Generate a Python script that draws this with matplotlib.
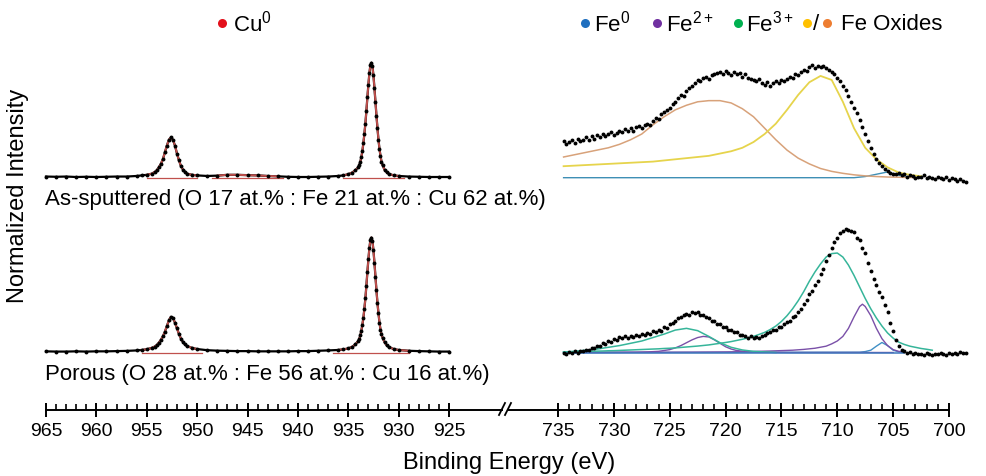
import numpy as np
import matplotlib
matplotlib.use("Agg")
import matplotlib.pyplot as plt
from matplotlib.ticker import FixedLocator

plt.rcParams["font.family"] = "Liberation Sans"
plt.rcParams["mathtext.fontset"] = "custom"
plt.rcParams["mathtext.rm"] = "Liberation Sans"
plt.rcParams["mathtext.default"] = "regular"

# ---- Cu 2p (binding energy, normalized intensity) ----
CU_E = [965, 964, 963, 962, 961, 960, 959, 958, 957, 956, 955.5, 955, 954.5, 954.2,
        954.0, 953.8, 953.6, 953.4, 953.2, 953.0, 952.8, 952.6, 952.4, 952.2, 952.0,
        951.8, 951.6, 951.4, 951.2, 951.0, 950.5, 950, 949, 948, 947, 946, 945, 944,
        943, 942, 941, 940, 939, 938, 937, 936, 935.5, 935, 934.6, 934.3, 934.0, 933.9,
        933.8, 933.7, 933.6, 933.5, 933.4, 933.3, 933.2, 933.1, 933.0, 932.9, 932.8,
        932.7, 932.6, 932.5, 932.4, 932.3, 932.2, 932.1, 932.0, 931.9, 931.8, 931.7,
        931.6, 931.4, 931.2, 931.0, 930.5, 930, 929, 928, 927, 926, 925]
CU_ASSPUT = [0.01, 0.008, 0.01, 0.006, 0.008, 0.006, 0.008, 0.01, 0.01, 0.015, 0.02, 0.025,
             0.035, 0.05, 0.065, 0.09, 0.12, 0.16, 0.22, 0.28, 0.33, 0.35, 0.33, 0.28, 0.21,
             0.15, 0.10, 0.07, 0.05, 0.035, 0.025, 0.02, 0.015, 0.018, 0.025, 0.025, 0.022,
             0.02, 0.015, 0.012, 0.008, 0.006, 0.006, 0.008, 0.01, 0.015, 0.02, 0.03, 0.045,
             0.065, 0.09, 0.11, 0.14, 0.18, 0.23, 0.30, 0.38, 0.47, 0.58, 0.70, 0.81, 0.91,
             0.98, 1.0, 0.97, 0.89, 0.78, 0.66, 0.54, 0.43, 0.33, 0.25, 0.19, 0.14, 0.11,
             0.07, 0.05, 0.035, 0.02, 0.015, 0.01, 0.008, 0.006, 0.006, 0.006]
CU_POROUS = [0.01, 0.008, 0.008, 0.01, 0.008, 0.01, 0.01, 0.012, 0.014, 0.018, 0.022, 0.028,
             0.04, 0.052, 0.065, 0.085, 0.11, 0.14, 0.18, 0.23, 0.28, 0.31, 0.30, 0.26, 0.21,
             0.16, 0.12, 0.09, 0.07, 0.055, 0.04, 0.03, 0.02, 0.016, 0.014, 0.012, 0.012,
             0.01, 0.01, 0.01, 0.01, 0.012, 0.012, 0.015, 0.018, 0.022, 0.027, 0.035, 0.05,
             0.07, 0.10, 0.12, 0.15, 0.19, 0.24, 0.30, 0.38, 0.47, 0.58, 0.70, 0.81, 0.91,
             0.98, 1.0, 0.97, 0.89, 0.78, 0.66, 0.54, 0.43, 0.34, 0.26, 0.20, 0.16, 0.13,
             0.09, 0.065, 0.05, 0.03, 0.022, 0.015, 0.012, 0.01, 0.008, 0.008]
# fitted ranges (red)
CU_FIT_ASSPUT = [(955.0, 950.0), (948.5, 941.5), (935.5, 929.5)]
CU_FIT_POROUS = [(955.5, 949.5), (936.5, 929.0)]

# ---- Fe 2p data, 0.25 eV step ----
FE_E = np.arange(734.5, 698.4, -0.25)
FE_ASSPUT = [
    0.32, 0.29, 0.31, 0.33, 0.30, 0.34, 0.32, 0.33,
    0.35, 0.33, 0.36, 0.34, 0.37, 0.35, 0.38, 0.36,
    0.38, 0.40, 0.37, 0.39, 0.41, 0.40, 0.42, 0.41,
    0.43, 0.41, 0.44, 0.45, 0.43, 0.46, 0.47, 0.46,
    0.49, 0.52, 0.51, 0.55, 0.57, 0.59, 0.61, 0.64,
    0.66, 0.69, 0.72, 0.71, 0.75, 0.78, 0.80, 0.82,
    0.85, 0.84, 0.87, 0.88, 0.86, 0.89, 0.90, 0.91,
    0.92, 0.90, 0.93, 0.91, 0.89, 0.92, 0.90, 0.91,
    0.88, 0.90, 0.87, 0.86, 0.85, 0.84, 0.86, 0.82,
    0.81, 0.83, 0.80, 0.82, 0.84, 0.82, 0.85, 0.84,
    0.86, 0.88, 0.87, 0.90, 0.89, 0.92, 0.94, 0.93,
    0.96, 0.98, 0.95, 0.97, 0.96, 0.97, 0.95, 0.94,
    0.92, 0.90, 0.87, 0.84, 0.80, 0.76, 0.71, 0.66,
    0.61, 0.56, 0.50, 0.44, 0.38, 0.32, 0.26, 0.21,
    0.165, 0.13, 0.10, 0.08, 0.06, 0.045, 0.035, 0.03,
    0.04, 0.02, 0.03, 0.01, 0.02, 0.015, 0.0, 0.01,
    0.005, 0.02, -0.005, 0.01, 0.0, -0.01, 0.005, -0.005,
    -0.01, 0.01, -0.02, -0.005, -0.015, -0.03, -0.01, -0.025,
    -0.04]
FE_POROUS = [
    -0.005, -0.015, 0.005, -0.005, 0.01, 0.0, 0.015, 0.01,
    0.025, 0.02, 0.04, 0.035, 0.06, 0.055, 0.08, 0.075,
    0.10, 0.09, 0.12, 0.11, 0.135, 0.125, 0.14, 0.13,
    0.145, 0.135, 0.15, 0.14, 0.16, 0.15, 0.17, 0.165,
    0.185, 0.175, 0.20, 0.19, 0.22, 0.21, 0.25, 0.255,
    0.275, 0.30, 0.305, 0.325, 0.335, 0.33, 0.35, 0.34,
    0.355, 0.33, 0.33, 0.305, 0.30, 0.275, 0.275, 0.25,
    0.25, 0.225, 0.225, 0.20, 0.20, 0.18, 0.18, 0.155,
    0.155, 0.14, 0.13, 0.14, 0.125, 0.135, 0.125, 0.145,
    0.15, 0.17, 0.175, 0.195, 0.20, 0.22, 0.225, 0.25,
    0.265, 0.275, 0.305, 0.32, 0.355, 0.38, 0.425, 0.455,
    0.505, 0.535, 0.585, 0.625, 0.685, 0.73, 0.795, 0.845,
    0.905, 0.96, 0.995, 1.035, 1.055, 1.07, 1.065, 1.06,
    1.045, 1.0, 0.975, 0.91, 0.865, 0.775, 0.705, 0.635,
    0.585, 0.525, 0.485, 0.41, 0.355, 0.26, 0.185, 0.11,
    0.055, 0.025, 0.015, 0.0, 0.005, -0.01, -0.005, -0.015,
    -0.01, -0.02, -0.005, -0.015, -0.02, -0.01, -0.015, -0.005,
    -0.01, -0.02, -0.005, -0.015, 0.0, -0.01, 0.005, -0.005,
    0.0]

# ---- Fe fits, as-sputtered (1 eV step) ----
FIT_A_E = np.arange(734.5, 702.4, -1.0)
OXIDE_A1 = [0.18, 0.20, 0.22, 0.24, 0.26, 0.29, 0.33, 0.38, 0.46, 0.53, 0.59, 0.63, 0.66,
            0.67, 0.67, 0.65, 0.60, 0.53, 0.43, 0.33, 0.24, 0.17, 0.12, 0.08, 0.055, 0.038,
            0.025, 0.016, 0.01, 0.006, 0.004, 0.002, 0.0]
OXIDE_A2 = [0.10, 0.105, 0.11, 0.115, 0.12, 0.125, 0.13, 0.135, 0.14, 0.15, 0.16, 0.17, 0.18,
            0.19, 0.21, 0.23, 0.26, 0.31, 0.38, 0.47, 0.59, 0.72, 0.83, 0.885, 0.85, 0.66,
            0.43, 0.26, 0.16, 0.09, 0.045, 0.025, 0.012]
FE0_A = [0, 0, 0, 0, 0, 0, 0, 0, 0, 0, 0, 0, 0, 0, 0, 0, 0, 0, 0, 0, 0, 0, 0, 0, 0, 0, 0,
         0.01, 0.03, 0.05, 0.02, 0.005, 0.0]

# ---- Fe fits, porous ----
FIT_P_E = np.arange(734.5, 701.4, -0.5)
FE3_P1 = [0.005, 0.006, 0.008, 0.009, 0.01, 0.011, 0.012, 0.013, 0.015, 0.016,
          0.018, 0.02, 0.022, 0.024, 0.026, 0.028, 0.03, 0.032, 0.035, 0.037,
          0.04, 0.044, 0.048, 0.052, 0.056, 0.061, 0.066, 0.073, 0.08, 0.087,
          0.095, 0.105, 0.115, 0.127, 0.14, 0.157, 0.175, 0.2, 0.23, 0.27,
          0.32, 0.38, 0.45, 0.53, 0.62, 0.70, 0.77, 0.83, 0.86, 0.865,
          0.83, 0.76, 0.67, 0.57, 0.47, 0.38, 0.30, 0.23, 0.17, 0.125,
          0.09, 0.07, 0.055, 0.045, 0.035, 0.028, 0.02]
FE3_P2_E = np.arange(734.5, 715.4, -1.0)
FE3_P2 = [0.005, 0.01, 0.02, 0.03, 0.045, 0.06, 0.08, 0.10, 0.13, 0.16, 0.195, 0.21, 0.19,
          0.14, 0.085, 0.045, 0.022, 0.01, 0.005, 0.0]
FE2_P1_E = [734.5, 727, 723, 720, 718, 716, 714, 713, 712, 711, 710.5, 710, 709.5, 709, 708.5,
            708, 707.75, 707.5, 707, 706.5, 706, 705.5, 705, 704.5, 704]
FE2_P1 = [0.0, 0.002, 0.003, 0.005, 0.008, 0.013, 0.02, 0.027, 0.037, 0.055, 0.075, 0.10,
          0.14, 0.21, 0.31, 0.40, 0.42, 0.40, 0.32, 0.21, 0.12, 0.06, 0.025, 0.01, 0.003]
FE2_P2_E = [734.5, 728, 727, 726, 725, 724.5, 724, 723.5, 723, 722.5, 722, 721.5, 721, 720.5,
            720, 719.5, 719, 718, 717, 714, 705]
FE2_P2 = [0.0, 0.002, 0.005, 0.01, 0.025, 0.04, 0.06, 0.085, 0.11, 0.13, 0.14, 0.135, 0.11,
          0.08, 0.05, 0.03, 0.017, 0.007, 0.003, 0.0, 0.0]
FE0_P_E = [734.5, 708, 707.5, 707, 706.5, 706, 705.5, 705, 704.5, 704]
FE0_P = [0.0, 0.003, 0.008, 0.02, 0.055, 0.087, 0.06, 0.02, 0.005, 0.0]

LABEL_A = "As-sputtered (O 17 at.% : Fe 21 at.% : Cu 62 at.%)"
LABEL_P = "Porous (O 28 at.% : Fe 56 at.% : Cu 16 at.%)"

RED = "#e3101b"
BLUE = "#1f6fbf"
PURPLE = "#7030a0"
GREEN = "#00b050"
YELLOW = "#ffc000"
ORANGE = "#ed7d31"

# vertical offsets of the two spectra (1 unit = main peak height)
OFF_A = 2.02
OFF_P = 0.50

W, H = 987, 477
fig = plt.figure(figsize=(W / 100, H / 100), dpi=100)


def px_axes(x0, x1, y0=40, y1=411):
    return fig.add_axes([x0 / W, 1 - y1 / H, (x1 - x0) / W, (y1 - y0) / H])


def style_axis(ax, majors, minors, bounds):
    for s in ["left", "right", "top"]:
        ax.spines[s].set_visible(False)
    ax.spines["bottom"].set_linewidth(1.4)
    ax.spines["bottom"].set_bounds(*bounds)
    ax.set_yticks([])
    ax.xaxis.set_major_locator(FixedLocator(majors))
    ax.xaxis.set_minor_locator(FixedLocator(minors))
    ax.tick_params(axis="x", which="major", direction="inout", length=10, width=1.4,
                   labelsize=14, pad=3.5)
    ax.tick_params(axis="x", which="minor", direction="in", length=4, width=1.2)
    ax.patch.set_alpha(0)
    ax.set_ylim(0, 371 / 115)


# ******左 Cu
ax = px_axes(46, 502)
ax.set_xlim(965, 925 - 53 / 10.075)
style_axis(ax, list(range(965, 924, -5)),
           [v for v in range(964, 925, -1) if v % 5], (965, 925 - 53 / 10.075))

cu_e = np.array(CU_E)
for ys, off, fits in [(CU_ASSPUT, OFF_A, CU_FIT_ASSPUT), (CU_POROUS, OFF_P, CU_FIT_POROUS)]:
    ys = np.array(ys)
    ax.plot(cu_e, ys + off, color="black", lw=1.6, zorder=2, clip_on=False)
    for a, b in fits:
        m = (cu_e <= a) & (cu_e >= b)
        ax.plot([a, b], [off, off], color="#c0504d", lw=0.9, zorder=1)
        ax.plot(cu_e[m], ys[m] + off, color="#c0504d", lw=1.4, zorder=3)
    ax.plot(cu_e, ys + off, "o", color="black", ms=2.8, mew=0, zorder=4, clip_on=False)

# ******右 Fe
ax2 = px_axes(508, 970)
ax2.set_xlim(735 + 50 / 11.171, 700 - 21 / 11.171)
style_axis(ax2, list(range(735, 699, -5)),
           [v for v in range(734, 700, -1) if v % 5], (735 + 50 / 11.171, 700))

ax2.plot(FIT_A_E, np.array(FE0_A) + OFF_A, color="#3f8fb5", lw=1.0, zorder=2)
ax2.plot(FIT_A_E, np.array(OXIDE_A1) + OFF_A, color="#d8a27a", lw=1.1, zorder=2)
ax2.plot(FIT_A_E, np.array(OXIDE_A2) + OFF_A, color="#e6d44c", lw=1.3, zorder=2)
ax2.plot(FE_E, np.array(FE_ASSPUT) + OFF_A, "o", color="black", ms=2.8, mew=0, zorder=4,
         clip_on=False)

ax2.plot(FE0_P_E, np.array(FE0_P) + OFF_P, color="#3f8fc5", lw=1.0, zorder=2)
ax2.plot(FE2_P1_E, np.array(FE2_P1) + OFF_P, color="#7a50a8", lw=1.0, zorder=2)
ax2.plot(FE2_P2_E, np.array(FE2_P2) + OFF_P, color="#7a50a8", lw=1.0, zorder=2)
ax2.plot(FIT_P_E, np.array(FE3_P1) + OFF_P, color="#36b59a", lw=1.1, zorder=2)
ax2.plot(FE3_P2_E, np.array(FE3_P2) + OFF_P, color="#36b59a", lw=1.1, zorder=2)
ax2.plot([734.5, 704], [OFF_P, OFF_P], color="#3d78bd", lw=1.1, zorder=3)
ax2.plot(FE_E, np.array(FE_POROUS) + OFF_P, "o", color="black", ms=2.8, mew=0, zorder=4,
         clip_on=False)

# overlay in pixel coords: legends, break mark, labels
ov = fig.add_axes([0, 0, 1, 1])
ov.set_xlim(0, W)
ov.set_ylim(H, 0)
ov.axis("off")
ov.patch.set_alpha(0)

ov.plot([499, 505], [416, 404], color="black", lw=1.3)
ov.plot([505, 511], [416, 404], color="black", lw=1.3)

LEG_Y = 24
ov.plot([222], [LEG_Y], "o", color=RED, ms=6.5, mew=0)
ov.text(233, LEG_Y, "Cu$^{0}$", fontsize=16, va="center")
leg_items = [(585, BLUE, 594, "Fe$^{0}$"), (657, PURPLE, 666, "Fe$^{2+}$"),
             (738, GREEN, 746, "Fe$^{3+}$")]
for dx, c, tx, t in leg_items:
    ov.plot([dx], [LEG_Y], "o", color=c, ms=6.5, mew=0)
    ov.text(tx, LEG_Y, t, fontsize=16, va="center")
ov.plot([807], [LEG_Y], "o", color=YELLOW, ms=6.5, mew=0)
ov.text(816.5, LEG_Y, "/", fontsize=16, va="center", ha="center")
ov.plot([827], [LEG_Y], "o", color=ORANGE, ms=6.5, mew=0)
ov.text(841, LEG_Y, "Fe Oxides", fontsize=16, va="center")

ov.text(45, 205, LABEL_A, fontsize=16, va="baseline")
ov.text(45, 380, LABEL_P, fontsize=16, va="baseline")
ov.text(509, 463, "Binding Energy (eV)", fontsize=17, ha="center", va="center")
ov.text(18, 196, "Normalized Intensity", fontsize=17, ha="center", va="center",
        rotation=90)

fig.savefig("out.png", dpi=100)
